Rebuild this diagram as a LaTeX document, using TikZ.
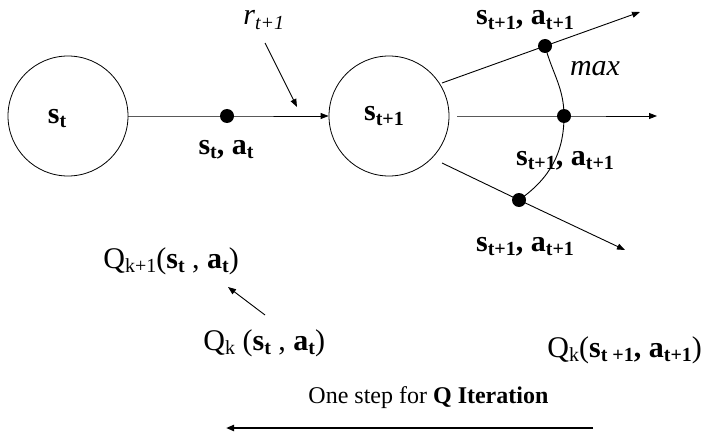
\documentclass[tikz,border=0pt]{standalone}
\usepackage{fontspec}
\setmainfont{Liberation Serif}
\usetikzlibrary{arrows.meta}
\newcommand\lsub[1]{\raisebox{-0.15em}{\fontsize{20}{20}\selectfont #1}}
\begin{document}
\begin{tikzpicture}[x=1pt,y=-1pt,
  line width=0.9pt,
  arr/.style={-{Triangle[length=8pt,width=6pt]}},
  dot/.style={circle,fill=black,inner sep=0pt,minimum size=14pt},
  state/.style={circle,draw,line width=0.8pt,minimum size=120pt,inner sep=0pt},
  lbl/.style={font=\fontsize{30}{30}\selectfont\bfseries,anchor=base,inner sep=0pt},
  qlbl/.style={font=\fontsize{30}{30}\selectfont,anchor=base west,inner sep=0pt},
  ]
\useasboundingbox (0,0) rectangle (711,433);

% states
\node[state] (c1) at (68,116) {};
\node[lbl] (t1) at (57,123) {s\lsub{t}};
\node[state] (c2) at (389,116) {};
\node[lbl] (t2) at (384,121) {s\lsub{t+1}};

% dots
\node[dot] (d1) at (227,116) {};
\node[dot] (du) at (545,46) {};
\node[dot] (dm) at (564,116) {};
\node[dot] (dl) at (519,200) {};

% free ends
\coordinate (u0) at (442,83);
\coordinate (u1) at (640,12);
\coordinate (m0) at (457,116);
\coordinate (m1) at (657,116);
\coordinate (l0) at (442,163);
\coordinate (l1) at (625,250);
\coordinate (ra0) at (265,43);
\coordinate (ra1) at (297,107);
\coordinate (qa0) at (265,315);
\coordinate (qa1) at (228,287);
\coordinate (b0) at (593,428);
\coordinate (b1) at (226,428);

% connectors
\draw[arr] (c1.east) -- (d1.center) -- (c2.west);
\draw[arr] (u0) -- (du.center) -- (u1);
\draw[arr] (m0) -- (dm.center) -- (m1);
\draw[arr] (l0) -- (dl.center) -- (l1);
\draw (du.center) to[out=-75,in=90] (dm.center) to[out=-90,in=35] (dl.center);
\draw[arr] (ra0) -- (ra1);
\draw[arr] (qa0) -- (qa1);
\draw[arr,line width=2pt] (b0) -- (b1);

% labels
\node[lbl] (lsa) at (226,154) {s\lsub{t}, a\lsub{t}};
\node[lbl] (ltop) at (525,25) {s\lsub{t+1}, a\lsub{t+1}};
\node[lbl] (lmid) at (565,165) {s\lsub{t+1}, a\lsub{t+1}};
\node[lbl] (lbot) at (525,251) {s\lsub{t+1}, a\lsub{t+1}};
\node[font=\fontsize{30}{30}\selectfont\itshape,anchor=base,inner sep=0pt] (max) at (595,76) {max};
\node[font=\fontsize{30}{30}\selectfont\itshape,anchor=base west,inner sep=0pt] (r) at (243,25) {r\lsub{t+1}};

\node[qlbl] (q1) at (103,268) {Q\lsub{k+1}(\textbf{s\lsub{t}} , \textbf{a\lsub{t}})};
\node[qlbl] (q2) at (203,350) {Q\lsub{k} (\textbf{s\lsub{t}} , \textbf{a\lsub{t}})};
\node[qlbl] (q3) at (547,357) {Q\lsub{k}(\textbf{s\lsub{t +1}, a\lsub{t+1}})};
\node[font=\fontsize{24}{24}\selectfont,anchor=base west,inner sep=0pt] (step) at (308,403) {One step for \textbf{Q Iteration}};
\end{tikzpicture}
\end{document}
